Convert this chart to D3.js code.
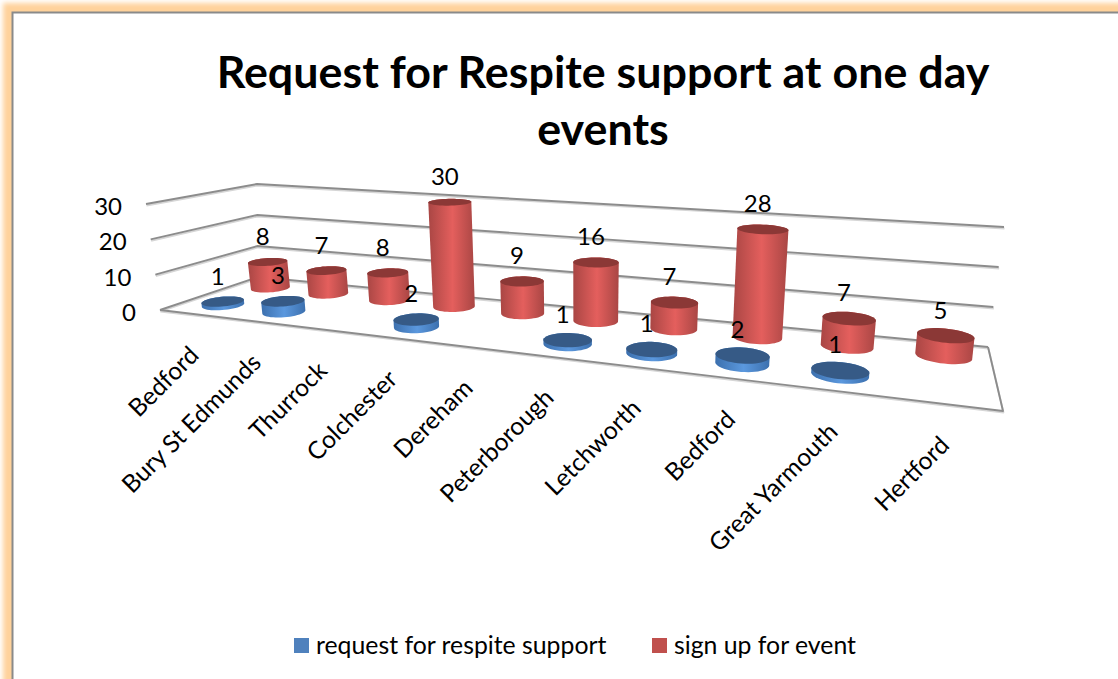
<!DOCTYPE html>
<html>
  <head>
    <meta charset="utf-8">
    <title>Request for Respite support at one day events</title>
    <style>
      html, body { margin: 0; padding: 0; background: #fff; }
      svg { display: block; }
      text { font-family: Lato, "Noto Sans", sans-serif; fill: #000; }
    </style>
  </head>
  <body>
    <svg width="1118" height="679"></svg>
    <script src="https://cdn.jsdelivr.net/npm/d3@7"></script>
    <script>
      var categories = ["Bedford", "Bury St Edmunds", "Thurrock", "Colchester", "Dereham",
                        "Peterborough", "Letchworth", "Bedford", "Great Yarmouth", "Hertford"];
      var requestValues = [1, 3, null, 2, null, 1, 1, 2, 1, null];
      var signupValues = [8, 7, 8, 30, 9, 16, 7, 28, 7, 5];
      var valueTicks = [0, 10, 20, 30];
      var titleLines = ["Request for Respite support at one day", "events"];
      var seriesNames = ["request for respite support", "sign up for event"];

      var svg = d3.select("svg");
      var defs = svg.append("defs");

      // plain gaussian elimination, enough for the homography fit below
      function solve(A, b) {
        var m = A.map(function(row, i) { return row.concat(b[i]); });
        var n = m.length;
        for (var i = 0; i < n; i++) {
          var p = i;
          for (var r = i + 1; r < n; r++) if (Math.abs(m[r][i]) > Math.abs(m[p][i])) p = r;
          var tmp = m[i]; m[i] = m[p]; m[p] = tmp;
          for (var r2 = 0; r2 < n; r2++) {
            if (r2 === i) continue;
            var f = m[r2][i] / m[i][i];
            for (var c = i; c <= n; c++) m[r2][c] -= f * m[i][c];
          }
        }
        return m.map(function(row, i) { return row[n] / row[i]; });
      }

      // maps the unit square onto a quad given as [u, v, x, y] corners
      function fitPlane(corners) {
        var A = [], b = [];
        corners.forEach(function(q) {
          A.push([q[0], q[1], 1, 0, 0, 0, -q[0] * q[2], -q[1] * q[2]]); b.push(q[2]);
          A.push([0, 0, 0, q[0], q[1], 1, -q[0] * q[3], -q[1] * q[3]]); b.push(q[3]);
        });
        var H = solve(A, b);
        return function(u, v) {
          var d = H[6] * u + H[7] * v + 1;
          return [(H[0] * u + H[1] * v + H[2]) / d, (H[3] * u + H[4] * v + H[5]) / d];
        };
      }

      // u runs along the categories, v from the front edge to the back wall
      var floorPlane = fitPlane([[0, 0, 160, 310], [1, 0, 1003, 411], [1, 1, 988, 347], [0, 1, 258, 277]]);

      // full wall height on screen at the front and back edge, left to right
      var frontHeight = d3.scaleLinear().domain([0, 1]).range([106, 137]);
      var backHeight = d3.scaleLinear().domain([0, 1]).range([93, 120]);

      // uprights fan out slightly from a vanishing point below the chart
      var fanCentre = 580, fanLean = 30;

      function project(u, v, w) {
        var p = floorPlane(u, v);
        var left = floorPlane(0, v), right = floorPlane(1, v);
        var t = (p[0] - left[0]) / (right[0] - left[0]);
        var h = d3.interpolateNumber(frontHeight(t), backHeight(t))(v);
        return [p[0] + w * (p[0] - fanCentre) / fanLean, p[1] - w * h];
      }

      // wall corners for the gridlines: [floor point, top point]
      var wallFrontLeft = [[160, 310], [146, 204]];
      var wallBackLeft = [[258, 277], [257, 184]];
      var wallBackRight = [[988, 347], [1004, 227]];

      function wallPoint(corner, w) {
        return d3.interpolateArray(corner[0], corner[1])(w);
      }

      var uScale = d3.scaleBand().domain(d3.range(categories.length)).range([0.011, 1.003]);
      var uEase = d3.scalePow().exponent(0.985).domain([0, 1.01]).range([0, 1.01]);
      var vScale = d3.scaleBand().domain(["sign up", "request"]).range([1, 0]);
      var wScale = d3.scaleLinear().domain([0, 30]).range([0, 1]);

      var radiusU = uScale.step() * 0.28;
      var radiusV = vScale.step() * 0.27;

      function categoryU(i) {
        return uEase(uScale(i) + uScale.bandwidth() / 2);
      }

      // orange glow and grey rule around the chart area
      var glow = defs.append("filter").attr("id", "glow")
          .attr("filterUnits", "userSpaceOnUse")
          .attr("x", -40).attr("y", -40).attr("width", 1300).attr("height", 800);
      glow.append("feGaussianBlur").attr("stdDeviation", 2.4);

      svg.append("rect").attr("x", 3).attr("y", 3).attr("width", 1200).attr("height", 760)
          .attr("fill", "#ffd29b").attr("filter", "url(#glow)");
      svg.append("rect").attr("x", 12.5).attr("y", 12.5).attr("width", 1200).attr("height", 760)
          .attr("fill", "#fff").attr("stroke", "#8a8a8a").attr("stroke-width", 2);

      function gradient(id, edge, mid) {
        var g = defs.append("linearGradient").attr("id", id);
        g.append("stop").attr("offset", "0%").attr("stop-color", edge);
        g.append("stop").attr("offset", "52%").attr("stop-color", mid);
        g.append("stop").attr("offset", "100%").attr("stop-color", edge);
      }
      gradient("side-red", "#a94644", "#e45f5d");
      gradient("side-blue", "#3c70ae", "#5b98de");

      // gridlines on the side and back walls, then the floor outline
      var line = d3.line();
      var grid = svg.append("g").attr("fill", "none").attr("stroke-linejoin", "round");

      function drawGrid(pts) {
        grid.append("path").attr("d", line(pts.map(function(p) { return [p[0] + 0.5, p[1] + 1.5]; })))
            .attr("stroke", "#d6d6d6").attr("stroke-width", 1.8);
        grid.append("path").attr("d", line(pts))
            .attr("stroke", "#8c8c8c").attr("stroke-width", 1.9);
      }

      valueTicks.forEach(function(t) {
        var w = wScale(t);
        drawGrid([wallPoint(wallFrontLeft, w), wallPoint(wallBackLeft, w), wallPoint(wallBackRight, w)]);
      });
      drawGrid([project(0, 0, 0), project(1, 0, 0), project(1, 1, 0)]);

      svg.append("g").selectAll("text")
          .data(valueTicks)
          .enter().append("text")
            .attr("x", function(d) { return wallPoint(wallFrontLeft, wScale(d))[0] - 24; })
            .attr("y", function(d) { return wallPoint(wallFrontLeft, wScale(d))[1] + 5; })
            .attr("text-anchor", "end")
            .attr("dominant-baseline", "middle")
            .attr("font-size", 24)
            .text(function(d) { return d; });

      // one cylinder: hull of the projected end circles, with the lid on top
      function ring(i, row, w) {
        var cu = categoryU(i);
        var cv = vScale(row) + vScale.bandwidth() / 2;
        return d3.range(48).map(function(k) {
          var t = k / 48 * 2 * Math.PI;
          return project(cu + radiusU * Math.cos(t), cv + radiusV * Math.sin(t), w);
        });
      }

      function centre(i, row, w) {
        return project(categoryU(i), vScale(row) + vScale.bandwidth() / 2, w);
      }

      var series = [
        { row: "sign up", values: signupValues, side: "url(#side-red)", lid: "#8b3836" },
        { row: "request", values: requestValues, side: "url(#side-blue)", lid: "#365a86" }
      ];

      series.forEach(function(s) {
        var bars = s.values.map(function(v, i) { return { i: i, v: v }; })
            .filter(function(d) { return d.v !== null; });
        var g = svg.append("g").selectAll("g").data(bars).enter().append("g");
        g.append("path")
            .attr("fill", s.side)
            .attr("d", function(d) {
              var hull = d3.polygonHull(ring(d.i, s.row, 0).concat(ring(d.i, s.row, wScale(d.v))));
              return line(hull) + "Z";
            });
        g.append("path")
            .attr("fill", s.lid)
            .attr("d", function(d) { return line(ring(d.i, s.row, wScale(d.v))) + "Z"; });
      });

      // data labels go above everything
      series.forEach(function(s) {
        var bars = s.values.map(function(v, i) { return { i: i, v: v }; })
            .filter(function(d) { return d.v !== null; });
        svg.append("g").selectAll("text").data(bars).enter().append("text")
            .attr("x", function(d) { return centre(d.i, s.row, wScale(d.v))[0] - 5; })
            .attr("y", function(d) { return centre(d.i, s.row, wScale(d.v))[1] - 23; })
            .attr("text-anchor", "middle")
            .attr("dominant-baseline", "middle")
            .attr("font-size", 24)
            .text(function(d) { return d.v; });
      });

      // category labels hang off the front edge at 45 degrees
      svg.append("g").selectAll("text")
          .data(categories)
          .enter().append("text")
            .attr("transform", function(d, i) {
              var p = project(categoryU(i), 0, 0);
              return "translate(" + (p[0] - 1) + "," + (p[1] + 38) + ") rotate(-45)";
            })
            .attr("text-anchor", "end")
            .attr("dominant-baseline", "middle")
            .attr("font-size", 24.6)
            .text(function(d) { return d; });

      svg.append("g").selectAll("text")
          .data(titleLines)
          .enter().append("text")
            .attr("x", 603)
            .attr("y", function(d, i) { return 88 + i * 57; })
            .attr("text-anchor", "middle")
            .attr("font-size", 44.8)
            .attr("font-weight", 700)
            .text(function(d) { return d; });

      var legendX = [294, 652];
      var legendColor = ["#4f81bd", "#c0504d"];
      var legend = svg.append("g").selectAll("g")
          .data(seriesNames)
          .enter().append("g")
            .attr("transform", function(d, i) { return "translate(" + legendX[i] + ",638)"; });
      legend.append("rect").attr("width", 15).attr("height", 15)
          .attr("fill", function(d, i) { return legendColor[i]; });
      legend.append("text").attr("x", 22).attr("y", 16)
          .attr("font-size", 24.8)
          .text(function(d) { return d; });
    </script>
  </body>
</html>
